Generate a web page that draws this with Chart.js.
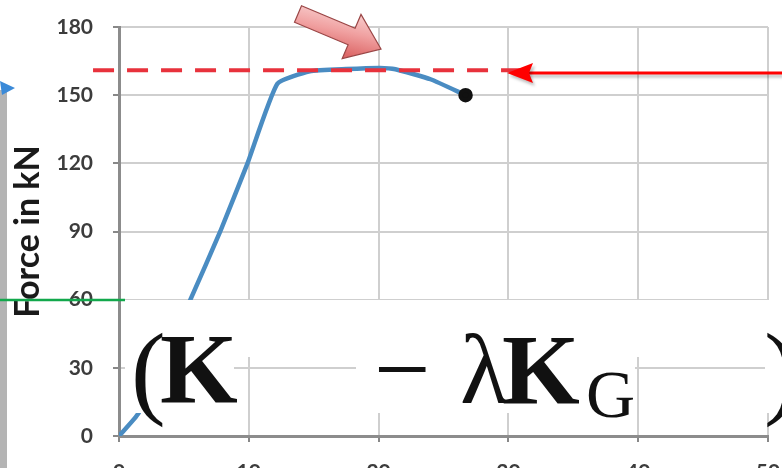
<!DOCTYPE html>
<html>
<head>
<meta charset="utf-8">
<script src="https://cdn.jsdelivr.net/npm/chart.js@4"></script>
<style>
  html, body { margin: 0; padding: 0; background: #fff; }
  #wrap { position: relative; width: 782px; height: 468px; overflow: hidden; }
  #chart { position: absolute; left: 0; top: 0; filter: blur(0.7px); }
  #over { position: absolute; left: 0; top: 0; pointer-events: none; }
  .f { position: absolute; font-family: "Liberation Serif", "DejaVu Serif", serif; line-height: 1; color: #111; white-space: nowrap; }
  .b { font-weight: bold; }
</style>
</head>
<body>
<div id="wrap">
  <canvas id="chart" width="782" height="468"></canvas>
  <canvas id="over" width="782" height="468"></canvas>
  <span class="f" style="left:131px; top:318px; font-size:104px;">(</span>
  <span class="f b" style="left:160px; top:319px; font-size:100px;">K</span>
  <span class="f" style="left:374px; top:320px; font-size:100px;">−</span>
  <span class="f" style="left:460px; top:320px; font-size:100px;">λ</span>
  <span class="f b" style="left:502px; top:320px; font-size:100px;">K</span>
  <span class="f" style="left:586px; top:360px; font-size:68px;">G</span>
  <span class="f" style="left:764px; top:318px; font-size:104px;">)</span>
</div>
<script>
// load-displacement curve
const dispValues = [0, 1.5, 5.5, 7.8, 9.9, 12.2, 14.7, 17.5, 20.1, 21.3, 24, 26.7];
const forceValues = [0, 10, 60, 90, 120, 155, 160.5, 161.5, 162, 161.4, 157, 150];

// dashed critical load line
const critX = [-2, 31.4];
const critLoad = 161;

const xTicks = [0, 10, 20, 30, 40, 50];
const yTicks = [0, 30, 60, 90, 120, 150, 180];

const curve = dispValues.map((x, i) => ({ x: x, y: forceValues[i] }));
const critLine = critX.map(x => ({ x: x, y: critLoad }));

new Chart(document.getElementById("chart"), {
  type: 'line',
  data: {
    datasets: [{
      data: critLine,
      borderColor: "#e8323c",
      borderWidth: 4,
      borderDash: [21, 13],
      pointRadius: 0,
      fill: false,
      clip: false
    }, {
      data: curve,
      borderColor: "#4a8cc2",
      borderWidth: 4.5,
      tension: 0.15,
      pointRadius: curve.map((p, i) => i === curve.length - 1 ? 5 : 0),
      pointBackgroundColor: "#111",
      pointBorderColor: "#111",
      fill: false
    }]
  },
  options: {
    responsive: false,
    animation: false,
    layout: { padding: { top: 27, right: 14, left: 0, bottom: 0 } },
    plugins: { legend: { display: false }, tooltip: { enabled: false } },
    scales: {
      x: {
        type: 'linear',
        min: xTicks[0],
        max: xTicks[xTicks.length - 1],
        afterBuildTicks: s => { s.ticks = xTicks.map(v => ({ value: v })); },
        afterFit: s => { s.height = 32; s.paddingLeft = 0; s.paddingRight = 0; },
        grid: { color: "#cfcfcf", lineWidth: 2, tickLength: 6, tickColor: "#888" },
        border: { color: "#8c8c8c", width: 3 },
        ticks: { padding: 18, color: "#3c3c3c", font: { family: "Lato", size: 21, weight: "bold" } }
      },
      y: {
        min: yTicks[0],
        max: yTicks[yTicks.length - 1],
        afterBuildTicks: s => { s.ticks = yTicks.map(v => ({ value: v })); },
        afterFit: s => { s.width = 119; s.paddingTop = 0; s.paddingBottom = 0; },
        grid: { color: "#cfcfcf", lineWidth: 2, tickLength: 6, tickColor: "#888" },
        border: { color: "#8c8c8c", width: 3 },
        ticks: { padding: 20, color: "#3c3c3c", font: { family: "Lato", size: 21, weight: "bold" } },
        title: {
          display: true,
          text: "Force in kN",
          color: "#1a1a1a",
          padding: { top: 8, bottom: 0 },
          font: { family: "Lato", size: 34, weight: "bold" }
        }
      }
    }
  }
});

// slide decorations drawn on top of the chart
const ctx = document.getElementById("over").getContext("2d");

// white box behind the formula
ctx.fillStyle = "#fff";
ctx.fillRect(125, 300, 657, 57);
ctx.fillRect(125, 357, 109, 56);
ctx.fillRect(356, 357, 279, 56);
ctx.fillRect(765, 357, 17, 56);

// grey bar and small blue arrow on the left edge
ctx.fillStyle = "#b4b4b4";
ctx.fillRect(0, 90, 7, 378);
ctx.fillStyle = "#3b8ad8";
ctx.beginPath();
ctx.moveTo(0, 81); ctx.lineTo(15, 88); ctx.lineTo(2, 95); ctx.closePath();
ctx.fill();

// green marker line
ctx.strokeStyle = "#12a84c";
ctx.lineWidth = 2.5;
ctx.beginPath();
ctx.moveTo(0, 300); ctx.lineTo(125, 300);
ctx.stroke();

// red arrow pointing at the dashed line
ctx.save();
ctx.shadowColor = "rgba(0,0,0,0.25)";
ctx.shadowOffsetX = 2; ctx.shadowOffsetY = 3; ctx.shadowBlur = 3;
ctx.strokeStyle = "#ff0000";
ctx.fillStyle = "#ff0000";
ctx.lineWidth = 3;
ctx.beginPath();
ctx.moveTo(782, 73); ctx.lineTo(525, 73);
ctx.stroke();
ctx.beginPath();
ctx.moveTo(507, 73); ctx.lineTo(533, 63); ctx.lineTo(529, 73); ctx.lineTo(533, 83); ctx.closePath();
ctx.fill();
ctx.restore();

// pink block arrow pointing at the peak
const pts = [[294.5, 22.3], [301.5, 5.7], [355.1, 28.2], [361, 14.4], [381, 49], [342.2, 58.6], [348.1, 44.8]];
const g = ctx.createLinearGradient(330, 5, 320, 50);
g.addColorStop(0, "#f9d2d2");
g.addColorStop(0.5, "#f0a0a0");
g.addColorStop(1, "#dc6666");
ctx.fillStyle = g;
ctx.strokeStyle = "#9a4646";
ctx.lineWidth = 1.2;
ctx.beginPath();
pts.forEach((p, i) => i ? ctx.lineTo(p[0], p[1]) : ctx.moveTo(p[0], p[1]));
ctx.closePath();
ctx.fill();
ctx.stroke();
</script>
</body>
</html>
